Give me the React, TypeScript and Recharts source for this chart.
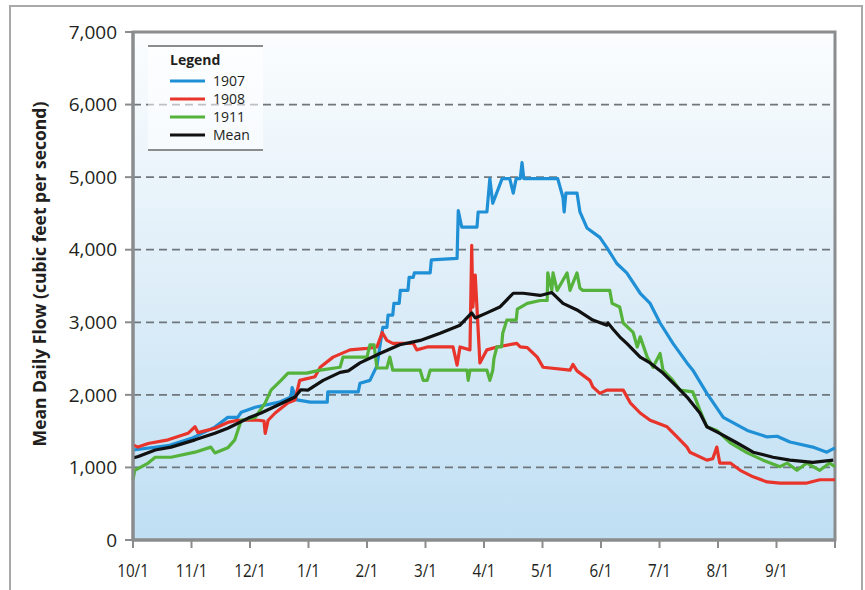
import React from "react";
import {
  LineChart,
  Line,
  XAxis,
  YAxis,
  CartesianGrid,
  ReferenceArea,
} from "recharts";

// x = months since Oct 1 (12 equal month slots), y = cfs
const MONTH_LABELS = ["10/1", "11/1", "12/1", "1/1", "2/1", "3/1", "4/1", "5/1", "6/1", "7/1", "8/1", "9/1", ""];
const Y_TICKS = [0, 1000, 2000, 3000, 4000, 5000, 6000, 7000];

const FLOW_1907: [number, number][] = [
  [0, 1240], [0.6, 1300], [1.0, 1400], [1.4, 1556], [1.62, 1690], [1.79, 1690], [1.85, 1760],
  [2.09, 1830], [2.5, 1900], [2.7, 1970], [2.72, 2100], [2.8, 1930], [3.03, 1900], [3.32, 1900],
  [3.33, 2040], [3.85, 2040], [3.88, 2160], [4.05, 2200], [4.17, 2400], [4.27, 2930], [4.34, 2930],
  [4.36, 3100], [4.44, 3100], [4.46, 3260], [4.55, 3260], [4.57, 3440], [4.7, 3440], [4.72, 3620],
  [4.79, 3620], [4.81, 3680], [5.08, 3680], [5.1, 3860], [5.54, 3880],
  [5.56, 4540], [5.62, 4310], [5.88, 4310], [5.9, 4520], [6.05, 4520], [6.1, 4980], [6.15, 4640],
  [6.31, 4980], [6.44, 4980], [6.5, 4780], [6.55, 4980], [6.62, 4980], [6.65, 5200], [6.68, 4980],
  [7.26, 4980], [7.35, 4720], [7.37, 4520], [7.4, 4780], [7.59, 4780], [7.64, 4520], [7.76, 4300],
  [7.98, 4170], [8.1, 4030], [8.27, 3810], [8.44, 3680], [8.67, 3400], [8.84, 3260], [9.01, 2990],
  [9.23, 2710], [9.47, 2440], [9.57, 2340], [9.81, 2020], [10.09, 1690], [10.5, 1510], [10.84, 1420],
  [11.01, 1430], [11.23, 1350], [11.62, 1280], [11.86, 1210], [12, 1270],
];

const FLOW_1908: [number, number][] = [
  [0, 1310], [0.085, 1280], [0.26, 1330], [0.6, 1380], [0.94, 1470], [1.06, 1560], [1.11, 1480],
  [1.4, 1540], [1.62, 1620], [1.79, 1650], [2.14, 1650], [2.24, 1640], [2.26, 1470], [2.31, 1650],
  [2.43, 1750], [2.65, 1890], [2.77, 1930], [2.85, 2200], [3.11, 2250], [3.2, 2380], [3.42, 2520],
  [3.71, 2620], [4.0, 2640], [4.17, 2660], [4.26, 2860], [4.34, 2750], [4.44, 2710], [4.79, 2710],
  [4.85, 2620], [5.03, 2660], [5.47, 2660], [5.54, 2410], [5.59, 2660], [5.76, 2620], [5.79, 4060],
  [5.81, 3210], [5.85, 3650], [5.93, 2440], [6.05, 2620], [6.22, 2660], [6.56, 2710], [6.62, 2660],
  [6.74, 2650], [6.91, 2520], [7.01, 2380], [7.47, 2340], [7.52, 2420], [7.59, 2330], [7.81, 2200],
  [7.86, 2110], [7.98, 2020], [8.1, 2065], [8.38, 2065], [8.5, 1890], [8.67, 1750], [8.84, 1650],
  [9.13, 1560], [9.3, 1420], [9.47, 1280], [9.52, 1210], [9.81, 1100], [9.91, 1120], [9.98, 1280],
  [10.03, 1060], [10.21, 1060], [10.38, 960], [10.6, 870], [10.84, 800], [11.06, 785], [11.52, 785],
  [11.74, 830], [12, 830],
];

const FLOW_1911: [number, number][] = [
  [0, 830], [0.03, 960], [0.26, 1060], [0.38, 1140], [0.65, 1140], [1.06, 1210], [1.33, 1280],
  [1.4, 1200], [1.62, 1270], [1.74, 1380], [1.85, 1650], [2.09, 1690], [2.26, 1890], [2.36, 2065],
  [2.53, 2200], [2.65, 2300], [2.97, 2300], [3.2, 2340], [3.54, 2380], [3.59, 2520], [4.0, 2520],
  [4.05, 2690], [4.12, 2690], [4.17, 2370], [4.34, 2370], [4.39, 2520], [4.44, 2340], [4.91, 2340],
  [4.96, 2200], [5.03, 2200], [5.08, 2340], [5.71, 2340], [5.73, 2200], [5.76, 2340], [6.05, 2340],
  [6.1, 2200], [6.15, 2340], [6.17, 2500], [6.22, 2660], [6.3, 2660], [6.32, 2850], [6.39, 3030],
  [6.55, 3030], [6.57, 3180], [6.74, 3260], [6.96, 3300], [7.08, 3300],
  [7.09, 3680], [7.16, 3440], [7.18, 3680], [7.25, 3440], [7.42, 3680], [7.47, 3440], [7.59, 3680],
  [7.64, 3470], [7.69, 3440], [8.15, 3440], [8.19, 3260], [8.32, 3210], [8.38, 2990], [8.55, 2860],
  [8.62, 2660], [8.67, 2800], [8.79, 2520], [8.89, 2380], [9.01, 2570], [9.06, 2340], [9.23, 2200],
  [9.35, 2065], [9.57, 2040], [9.69, 1790], [9.81, 1560], [9.98, 1510], [10.21, 1340], [10.5, 1200],
  [10.77, 1100], [11.06, 1010], [11.18, 1060], [11.35, 960], [11.52, 1060], [11.74, 960],
  [11.91, 1060], [12, 1010],
];

const FLOW_MEAN: [number, number][] = [
  [0, 1130], [0.09, 1150], [0.38, 1240], [0.65, 1280], [1.06, 1380], [1.4, 1470], [1.62, 1540],
  [1.97, 1680], [2.19, 1750], [2.48, 1860], [2.77, 1970], [2.87, 2070], [2.99, 2065], [3.25, 2200],
  [3.54, 2310], [3.68, 2330], [3.88, 2440], [4.22, 2570], [4.56, 2690], [4.91, 2750], [5.25, 2850],
  [5.59, 2960], [5.79, 3130], [5.85, 3060], [6.05, 3130], [6.27, 3210], [6.5, 3400], [6.67, 3400],
  [6.96, 3370], [7.16, 3410], [7.35, 3260], [7.59, 3170], [7.86, 3030], [8.1, 2960], [8.12, 2990],
  [8.21, 2900], [8.32, 2800], [8.44, 2710], [8.67, 2520], [8.84, 2440], [9.06, 2300], [9.3, 2110],
  [9.47, 1970], [9.69, 1750], [9.81, 1560], [10.03, 1470], [10.32, 1340], [10.6, 1210], [10.94, 1140],
  [11.23, 1100], [11.62, 1070], [11.97, 1100],
];

const SERIES = [
  { name: "1907", color: "#1f8fd6", points: FLOW_1907 },
  { name: "1908", color: "#e8342b", points: FLOW_1908 },
  { name: "1911", color: "#55b23b", points: FLOW_1911 },
  { name: "Mean", color: "#111111", points: FLOW_MEAN },
];

const toRows = (pts: [number, number][]) => pts.map(([m, v]) => ({ m, v }));

const fmt = (v: number) => String(v).replace(/\B(?=(\d{3})+(?!\d))/g, ",");

const AXIS_GRAY = "#8a8c8e";
const TEXT = "#231f20";

function MonthTick(props: any) {
  const { x, y, payload } = props;
  return (
    <text
      transform={`translate(${x},${y + 27}) scale(0.8,1)`}
      textAnchor="middle"
      fontSize={19}
      fontFamily="'Open Sans', sans-serif"
      fill={TEXT}
    >
      {MONTH_LABELS[payload.value]}
    </text>
  );
}

function ChartLegend() {
  return (
    <div style={{ position: "absolute", left: 148, top: 45, width: 115, height: 106 }}>
      <svg width={115} height={106}>
        <rect x={0} y={1} width={115} height={104} fill="rgba(255,255,255,0.55)" />
        <line x1={0} y1={1} x2={115} y2={1} stroke={AXIS_GRAY} strokeWidth={2} />
        <line x1={0} y1={105} x2={115} y2={105} stroke={AXIS_GRAY} strokeWidth={2} />
        <text x={22} y={20} fontSize={14} fontWeight={700} fontFamily="'Open Sans', sans-serif" fill={TEXT}>
          Legend
        </text>
        {SERIES.map((s, i) => (
          <g key={s.name}>
            <line x1={22} x2={57} y1={36 + i * 18} y2={36 + i * 18} stroke={s.color} strokeWidth={3} />
            <text x={65} y={41 + i * 18} fontSize={14} fontFamily="'Open Sans', sans-serif" fill={TEXT}>
              {s.name}
            </text>
          </g>
        ))}
      </svg>
    </div>
  );
}

export default function App() {
  return (
    <div
      style={{
        position: "absolute",
        left: 0,
        top: 0,
        width: 865,
        height: 590,
        overflow: "hidden",
        background: "white",
      }}
    >
      <div
        style={{
          position: "absolute",
          left: 9,
          top: 5,
          width: 850,
          height: 620,
          border: "2px solid #a7a9ab",
        }}
      />
      <LineChart
        width={865}
        height={590}
        margin={{ top: 32, right: 30, bottom: 20, left: 73 }}
        style={{ position: "absolute", left: 0, top: 0 }}
      >
        <defs>
          <linearGradient id="plotBg" x1="0" y1="0" x2="0" y2="1">
            <stop offset="0%" stopColor="#fbfdfe" />
            <stop offset="45%" stopColor="#e1eff9" />
            <stop offset="100%" stopColor="#bfdff3" />
          </linearGradient>
        </defs>
        <CartesianGrid
          vertical={false}
          fill="url(#plotBg)"
          stroke="#6f777c"
          strokeWidth={1.8}
          strokeDasharray="8 5"
        />
        <XAxis
          type="number"
          dataKey="m"
          domain={[0, 12]}
          ticks={[0, 1, 2, 3, 4, 5, 6, 7, 8, 9, 10, 11, 12]}
          interval={0}
          allowDuplicatedCategory={false}
          height={30}
          tickSize={8}
          tick={<MonthTick />}
          axisLine={{ stroke: AXIS_GRAY, strokeWidth: 3 }}
          tickLine={{ stroke: AXIS_GRAY, strokeWidth: 2 }}
        />
        <YAxis
          type="number"
          domain={[0, 7000]}
          ticks={Y_TICKS}
          interval={0}
          width={60}
          tickSize={8}
          tickMargin={8}
          tickFormatter={fmt}
          tick={{ fontSize: 19, fill: TEXT, fontFamily: "'Open Sans', sans-serif" }}
          axisLine={{ stroke: AXIS_GRAY, strokeWidth: 3 }}
          tickLine={{ stroke: AXIS_GRAY, strokeWidth: 2 }}
        />
        <ReferenceArea
          x1={0}
          x2={12}
          y1={0}
          y2={7000}
          fill="none"
          fillOpacity={0}
          stroke={AXIS_GRAY}
          strokeWidth={3}
          ifOverflow="visible"
        />
        {SERIES.map((s) => (
          <Line
            key={s.name}
            data={toRows(s.points)}
            dataKey="v"
            name={s.name}
            type="linear"
            stroke={s.color}
            strokeWidth={3.2}
            strokeLinejoin="round"
            dot={false}
            activeDot={false}
            isAnimationActive={false}
          />
        ))}
      </LineChart>
      <div
        style={{
          position: "absolute",
          left: 39,
          top: 274,
          transform: "translate(-50%, -50%) rotate(-90deg)",
          whiteSpace: "nowrap",
          fontFamily: "'Open Sans', sans-serif",
          fontWeight: 700,
          fontSize: 17.5,
          color: TEXT,
        }}
      >
        Mean Daily Flow (cubic feet per second)
      </div>
      <ChartLegend />
    </div>
  );
}
